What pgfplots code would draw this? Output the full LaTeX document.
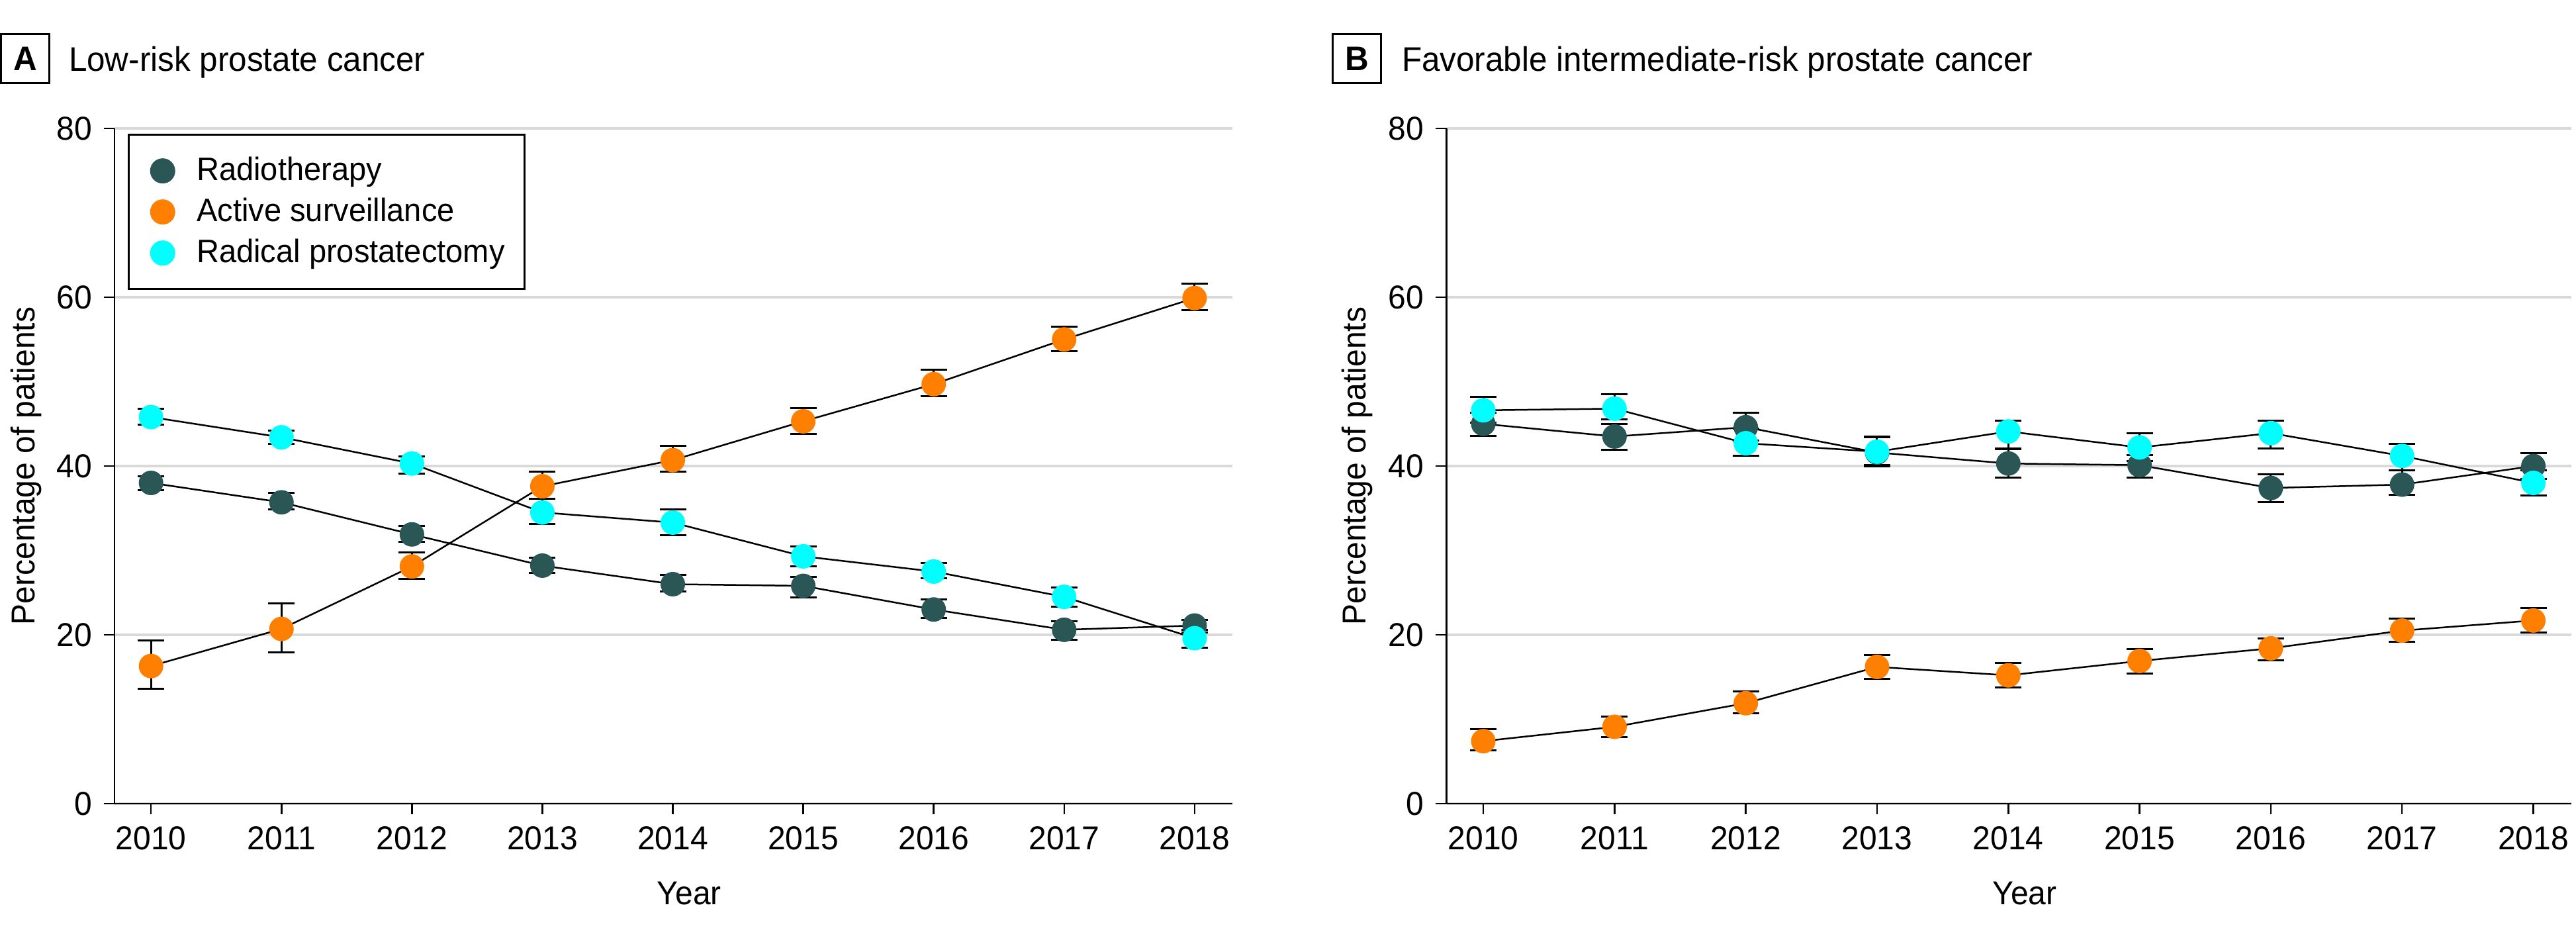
\documentclass[border=0pt]{standalone}
\usepackage{fontspec}
\setmainfont{Liberation Sans}[FakeStretch=0.96]
\usepackage{pgfplots}
\pgfplotsset{compat=1.18}
\usepackage{pgfplotstable}
\definecolor{rtc}{RGB}{42,86,86}
\definecolor{asc}{RGB}{255,128,0}
\definecolor{rpc}{RGB}{0,255,255}
\definecolor{gridc}{RGB}{217,217,217}
\newcommand\tfont{\fontsize{10}{12}\selectfont}

\pgfplotstableread{
year rt rtlo rthi as aslo ashi rp rplo rphi
2010 38.0 37.1 38.8 16.3 13.6 19.3 45.8 44.9 46.8
2011 35.7 34.9 36.8 20.7 17.9 23.7 43.4 42.6 44.2
2012 31.9 31.0 32.9 28.1 26.6 29.8 40.3 39.1 41.1
2013 28.2 27.3 29.1 37.6 36.1 39.3 34.5 33.1 36.1
2014 26.0 25.1 27.1 40.7 39.3 42.4 33.3 31.8 34.9
2015 25.8 24.4 26.9 45.3 43.8 46.9 29.3 28.1 30.5
2016 23.0 22.0 24.2 49.7 48.3 51.4 27.5 26.7 28.5
2017 20.6 19.4 21.6 55.0 53.6 56.5 24.5 23.3 25.6
2018 21.1 20.3 21.8 59.9 58.5 61.6 19.6 18.5 20.6
}\dataA

\pgfplotstableread{
year rt rtlo rthi as aslo ashi rp rplo rphi
2010 45.0 43.6 46.3 7.4 6.3 8.8 46.6 45.1 48.2
2011 43.5 41.9 45.0 9.1 7.9 10.3 46.8 45.5 48.5
2012 44.6 43.0 46.3 11.9 10.7 13.3 42.7 41.2 44.4
2013 41.6 40.0 43.4 16.2 14.8 17.6 41.7 40.1 43.5
2014 40.3 38.6 42.0 15.2 13.8 16.7 44.1 42.1 45.4
2015 40.1 38.6 41.3 16.9 15.4 18.3 42.2 40.6 43.9
2016 37.4 35.7 39.0 18.4 17.0 19.6 43.9 42.1 45.4
2017 37.8 36.6 39.5 20.5 19.2 21.9 41.2 39.5 42.6
2018 40.0 38.5 41.5 21.7 20.3 23.2 38.0 36.5 39.5
}\dataB

\pgfplotsset{
  panel/.style={
    scale only axis, height=204pt,
    xmin=2009.72, xmax=2018.29, ymin=0, ymax=80,
    xtick={2010,2011,2012,2013,2014,2015,2016,2017,2018},
    ytick={0,20,40,60,80},
    axis x line*=bottom, axis y line*=left,
    tick align=outside, major tick length=3.3pt,
    ymajorgrids, grid style={gridc, line width=0.8pt},
    axis line style={black, line width=0.5pt},
    tick style={black, line width=0.5pt},
    /pgf/number format/assume math mode=true,
    /pgf/number format/1000 sep={},
    ticklabel style={font=\tfont},
    xlabel={Year}, ylabel={Percentage of patients},
    label style={font=\tfont},
    xlabel style={at={(axis description cs:0.514,-0.15)}, anchor=base},
    ylabel style={at={(axis description cs:-0.0716,0.5)}, anchor=base, rotate=0},
    legend cell align=left,
  },
  ln/.style={black, line width=0.5pt, mark=none, forget plot},
  pts/.style={only marks, mark=*, mark size=3.5pt, mark options={draw=#1, fill=#1},
    error bars/.cd, y dir=both, y explicit, error mark=|,
    error bar style={black, line width=0.6pt},
    error mark options={black, mark size=4pt, line width=0.6pt}},
}

\begin{document}
\begin{tikzpicture}
\useasboundingbox (0,0) rectangle (778.4pt,283.4pt);

\begin{axis}[panel, at={(34.6pt,40.6pt)}, anchor=south west, width=337.8pt,
  legend style={at={(0.012,0.992)}, anchor=north west, draw=black, line width=0.6pt,
    font=\fontsize{9.8}{12}\selectfont, inner xsep=4pt, inner ysep=4.6pt, row sep=-0.2pt},
  legend image code/.code={\path[draw=none] (0pt,-3.5pt) rectangle (14.5pt,3.5pt);
    \draw[#1, mark size=3.5pt] plot coordinates {(6.2pt,0pt)};}]
\addplot[ln] table[x=year,y=rt]{\dataA};
\addplot[ln] table[x=year,y=as]{\dataA};
\addplot[ln] table[x=year,y=rp]{\dataA};
\addplot[pts=rtc] table[x=year, y=rt, y error plus expr=\thisrow{rthi}-\thisrow{rt}, y error minus expr=\thisrow{rt}-\thisrow{rtlo}]{\dataA};
\addlegendentry{Radiotherapy}
\addplot[pts=asc] table[x=year, y=as, y error plus expr=\thisrow{ashi}-\thisrow{as}, y error minus expr=\thisrow{as}-\thisrow{aslo}]{\dataA};
\addlegendentry{Active surveillance}
\addplot[pts=rpc] table[x=year, y=rp, y error plus expr=\thisrow{rphi}-\thisrow{rp}, y error minus expr=\thisrow{rp}-\thisrow{rplo}]{\dataA};
\addlegendentry{Radical prostatectomy}
\end{axis}

\begin{axis}[panel, at={(437.1pt,40.6pt)}, anchor=south west, width=339.9pt]
\addplot[ln] table[x=year,y=rt]{\dataB};
\addplot[ln] table[x=year,y=as]{\dataB};
\addplot[ln] table[x=year,y=rp]{\dataB};
\addplot[pts=rtc] table[x=year, y=rt, y error plus expr=\thisrow{rthi}-\thisrow{rt}, y error minus expr=\thisrow{rt}-\thisrow{rtlo}]{\dataB};
\addplot[pts=asc] table[x=year, y=as, y error plus expr=\thisrow{ashi}-\thisrow{as}, y error minus expr=\thisrow{as}-\thisrow{aslo}]{\dataB};
\addplot[pts=rpc] table[x=year, y=rp, y error plus expr=\thisrow{rphi}-\thisrow{rp}, y error minus expr=\thisrow{rp}-\thisrow{rplo}]{\dataB};
\end{axis}

\draw[line width=0.6pt] (0.4pt,258.2pt) rectangle (14.8pt,273pt);
\node[font=\fontsize{10.3}{12}\selectfont\bfseries, inner sep=0] at (7.6pt,265.6pt) {A};
\node[anchor=base west, inner sep=0, font=\fontsize{10.3}{12}\selectfont] at (20.6pt,261.8pt) {Low-risk prostate cancer};

\draw[line width=0.6pt] (402.7pt,258.2pt) rectangle (417.3pt,273pt);
\node[font=\fontsize{10.3}{12}\selectfont\bfseries, inner sep=0] at (410pt,265.6pt) {B};
\node[anchor=base west, inner sep=0, font=\fontsize{10.3}{12}\selectfont] at (423.4pt,261.8pt) {Favorable intermediate-risk prostate cancer};
\end{tikzpicture}
\end{document}
